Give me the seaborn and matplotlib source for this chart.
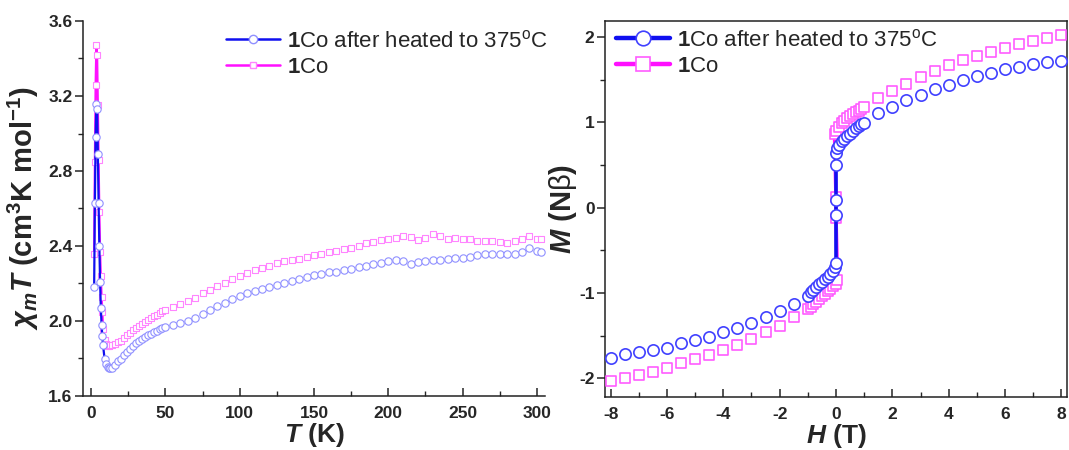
import numpy as np
import pandas as pd
import matplotlib
matplotlib.use("Agg")
import matplotlib.pyplot as plt
from matplotlib.lines import Line2D
from matplotlib.ticker import MultipleLocator
import seaborn as sns

# ---------------- data: left panel (chi_m T vs T) ----------------
T_low = [2, 2.5, 3, 3.5, 4, 4.5, 5, 5.5, 6, 6.5, 7, 7.5, 8, 9, 10, 11, 12, 13]
chi_blue_low = [2.18, 2.63, 2.98, 3.16, 3.13, 2.89, 2.63, 2.40, 2.21, 2.07, 1.98, 1.92,
                1.87, 1.80, 1.77, 1.755, 1.748, 1.748]
chi_pink_low = [2.36, 2.85, 3.26, 3.47, 3.42, 3.15, 2.86, 2.58, 2.37, 2.24, 2.13, 2.05,
                1.96, 1.90, 1.875, 1.868, 1.868, 1.870]

T_high = [14, 16, 18, 20, 22, 24, 26, 28, 30, 32, 34, 36, 38, 40, 42, 44, 46, 48, 50,
          55, 60, 65, 70, 75, 80, 85, 90, 95, 100, 105, 110, 115, 120, 125, 130, 135,
          140, 145, 150, 155, 160, 165, 170, 175, 180, 185, 190, 195, 200, 205, 210,
          215, 220, 225, 230, 235, 240, 245, 250, 255, 260, 265, 270, 275, 280, 285,
          290, 295, 300, 303]
chi_blue_high = [1.752, 1.765, 1.785, 1.800, 1.820, 1.835, 1.850, 1.868, 1.882, 1.895,
                 1.905, 1.915, 1.925, 1.933, 1.941, 1.948, 1.955, 1.961, 1.967,
                 1.977, 1.987, 2.000, 2.018, 2.038, 2.058, 2.078, 2.098, 2.117, 2.133,
                 2.148, 2.160, 2.170, 2.180, 2.193, 2.204, 2.214, 2.224, 2.234, 2.244,
                 2.253, 2.259, 2.264, 2.270, 2.279, 2.288, 2.296, 2.305, 2.310, 2.318,
                 2.325, 2.320, 2.305, 2.315, 2.320, 2.325, 2.326, 2.330, 2.334, 2.338,
                 2.342, 2.352, 2.355, 2.356, 2.356, 2.357, 2.360, 2.370, 2.388, 2.372,
                 2.370]
chi_pink_high = [1.872, 1.878, 1.886, 1.896, 1.910, 1.924, 1.936, 1.950, 1.962, 1.974,
                 1.985, 1.995, 2.005, 2.015, 2.025, 2.034, 2.043, 2.052, 2.060,
                 2.075, 2.090, 2.108, 2.125, 2.148, 2.168, 2.188, 2.205, 2.224, 2.240,
                 2.255, 2.270, 2.284, 2.295, 2.308, 2.318, 2.325, 2.333, 2.344, 2.350,
                 2.358, 2.366, 2.375, 2.385, 2.392, 2.401, 2.414, 2.424, 2.430, 2.440,
                 2.441, 2.453, 2.450, 2.432, 2.445, 2.462, 2.455, 2.440, 2.441, 2.437,
                 2.435, 2.428, 2.428, 2.428, 2.420, 2.418, 2.425, 2.435, 2.453, 2.440,
                 2.440]

# ---------------- data: right panel (M vs H) ----------------
H_high = [-8, -7.5, -7, -6.5, -6, -5.5, -5, -4.5, -4, -3.5, -3, -2.5, -2, -1.5,
          1.5, 2, 2.5, 3, 3.5, 4, 4.5, 5, 5.5, 6, 6.5, 7, 7.5, 8]
M_blue_high = [-1.757, -1.718, -1.698, -1.667, -1.640, -1.588, -1.553, -1.514, -1.463,
               -1.412, -1.353, -1.279, -1.216, -1.130,
               1.106, 1.184, 1.262, 1.320, 1.388, 1.439, 1.498, 1.545, 1.584, 1.627,
               1.654, 1.686, 1.706, 1.725]
M_pink_high = [-2.032, -2.000, -1.961, -1.922, -1.875, -1.824, -1.776, -1.726, -1.671,
               -1.608, -1.541, -1.463, -1.385, -1.287,
               1.282, 1.372, 1.451, 1.537, 1.607, 1.674, 1.733, 1.780, 1.831, 1.878,
               1.917, 1.956, 1.988, 2.027]

H_low_blue = [-1.0, -0.9, -0.8, -0.7, -0.6, -0.5, -0.4, -0.3, -0.2, -0.1, -0.05, 0, 0, 0,
              0, 0, 0.05, 0.1, 0.2, 0.3, 0.4, 0.5, 0.6, 0.7, 0.8, 0.9, 1.0]
M_low_blue = [-1.032, -0.99, -0.96, -0.93, -0.90, -0.87, -0.84, -0.81, -0.78, -0.74,
              -0.70, -0.65, -0.09, 0.09, 0.50, 0.64, 0.70, 0.74, 0.78, 0.81, 0.84, 0.87,
              0.90, 0.93, 0.955, 0.98, 0.995]
H_low_pink = [-1.0, -0.9, -0.8, -0.7, -0.6, -0.5, -0.4, -0.3, -0.2, -0.1, 0, 0.05, 0, 0,
              -0.05, 0, 0.1, 0.2, 0.3, 0.4, 0.5, 0.6, 0.7, 0.8, 0.9, 1.0]
M_low_pink = [-1.188, -1.16, -1.13, -1.10, -1.07, -1.04, -1.01, -0.98, -0.95, -0.92,
              -0.89, -0.85, -0.12, 0.12, 0.86, 0.90, 0.95, 0.99, 1.02, 1.05, 1.08, 1.10,
              1.12, 1.14, 1.16, 1.176]

label_blue = r"$\mathbf{1}$Co after heated to 375$^{\mathrm{o}}$C"
label_pink = r"$\mathbf{1}$Co"

# ---------------- styling ----------------
sns.set_theme(style="ticks")
plt.rcParams["font.family"] = ["Liberation Sans", "DejaVu Sans"]
plt.rcParams["mathtext.fontset"] = "custom"
plt.rcParams["mathtext.rm"] = "Liberation Sans"
plt.rcParams["mathtext.it"] = "Liberation Sans:italic:bold"
plt.rcParams["mathtext.bf"] = "Liberation Sans:bold"
plt.rcParams["axes.unicode_minus"] = False
plt.rcParams["axes.edgecolor"] = "#222222"
plt.rcParams["axes.linewidth"] = 1.1

BLUE_LINE = "#1010f0"
PINK_LINE = "#ff10ff"
BLUE_L_EDGE = "#9090ff"
PINK_L_EDGE = "#ff85ff"
BLUE_R_EDGE = "#4040ff"
PINK_R_EDGE = "#ff5cff"

fig = plt.figure(figsize=(10.69, 4.5), dpi=100)
axL = fig.add_axes([83 / 1069, 1 - 396 / 450, 462 / 1069, 375 / 450])
axR = fig.add_axes([605 / 1069, 1 - 397 / 450, 462 / 1069, 376 / 450])

# ---------------- left panel ----------------
dfL_lo = pd.DataFrame({"T": T_low, "blue": chi_blue_low, "pink": chi_pink_low})
dfL_hi = pd.DataFrame({"T": T_high, "blue": chi_blue_high, "pink": chi_pink_high})

sns.lineplot(data=dfL_lo, x="T", y="pink", sort=False, estimator=None,
             color=PINK_LINE, lw=1.6, ax=axL, zorder=2)
for d in (dfL_lo, dfL_hi):
    sns.scatterplot(data=d, x="T", y="pink", marker="s", s=18, color="white",
                    edgecolor=PINK_L_EDGE, linewidth=0.8, ax=axL, zorder=3)
sns.lineplot(data=dfL_lo, x="T", y="blue", sort=False, estimator=None,
             color=BLUE_LINE, lw=1.6, ax=axL, zorder=4)
for d in (dfL_lo, dfL_hi):
    sns.scatterplot(data=d, x="T", y="blue", marker="o", s=28, color="white",
                    edgecolor=BLUE_L_EDGE, linewidth=0.8, ax=axL, zorder=5)

axL.set_xlim(-5.5, 305.5)
axL.set_ylim(1.6, 3.6)
axL.xaxis.set_major_locator(MultipleLocator(50))
axL.xaxis.set_minor_locator(MultipleLocator(25))
axL.yaxis.set_major_locator(MultipleLocator(0.4))
axL.yaxis.set_minor_locator(MultipleLocator(0.2))
axL.yaxis.set_major_formatter(matplotlib.ticker.FormatStrFormatter("%.1f"))
for s in ("top", "right"):
    axL.spines[s].set_visible(False)
axL.tick_params(axis="y", which="major", direction="out", length=6, width=1.1,
                pad=1.5, labelsize=12.5)
axL.tick_params(axis="y", which="minor", direction="out", length=3.5, width=1.0)
axL.tick_params(axis="x", which="major", direction="in", length=5.5, width=1.1,
                pad=7, labelsize=12.5)
axL.tick_params(axis="x", which="minor", direction="in", length=3.5, width=1.0)
for lab in axL.get_xticklabels() + axL.get_yticklabels():
    lab.set_fontweight("bold")
axL.set_xlabel(r"$T$ (K)", fontsize=19, fontweight="bold", labelpad=0)
axL.set_ylabel(r"$\chi_m T$ (cm$^{\mathbf{3}}$K mol$^{\mathbf{-1}}$)", fontsize=21,
               fontweight="bold", labelpad=5)

hL = [Line2D([], [], color=BLUE_LINE, lw=1.8, marker="o", ms=6, mfc="white",
             mec=BLUE_L_EDGE, mew=1.0),
      Line2D([], [], color=PINK_LINE, lw=1.8, marker="s", ms=5, mfc="white",
             mec=PINK_L_EDGE, mew=1.0)]
fig.legend(hL, [label_blue, label_pink], loc="upper left",
           bbox_to_anchor=(226 / 1069, 1 - 30 / 450), frameon=False, fontsize=16,
           handlelength=2.45, handletextpad=0.3, labelspacing=0.22, borderpad=0,
           borderaxespad=0)

# ---------------- right panel ----------------
dfR_lo_b = pd.DataFrame({"H": H_low_blue, "M": M_low_blue})
dfR_lo_p = pd.DataFrame({"H": H_low_pink, "M": M_low_pink})
dfR_hi = pd.DataFrame({"H": H_high, "blue": M_blue_high, "pink": M_pink_high})

sns.lineplot(data=dfR_lo_p, x="H", y="M", sort=False, estimator=None,
             color=PINK_LINE, lw=2.6, ax=axR, zorder=2)
sns.scatterplot(data=dfR_lo_p, x="H", y="M", marker="s", s=52, color="white",
                edgecolor=PINK_R_EDGE, linewidth=1.2, ax=axR, zorder=3)
sns.scatterplot(data=dfR_hi, x="H", y="pink", marker="s", s=52, color="white",
                edgecolor=PINK_R_EDGE, linewidth=1.2, ax=axR, zorder=3)
sns.lineplot(data=dfR_lo_b, x="H", y="M", sort=False, estimator=None,
             color=BLUE_LINE, lw=2.6, ax=axR, zorder=4)
sns.scatterplot(data=dfR_lo_b, x="H", y="M", marker="o", s=66, color="white",
                edgecolor=BLUE_R_EDGE, linewidth=1.2, ax=axR, zorder=5)
sns.scatterplot(data=dfR_hi, x="H", y="blue", marker="o", s=66, color="white",
                edgecolor=BLUE_R_EDGE, linewidth=1.2, ax=axR, zorder=5)

axR.set_xlim(-8.2, 8.2)
axR.set_ylim(-2.22, 2.19)
axR.xaxis.set_major_locator(MultipleLocator(2))
axR.xaxis.set_minor_locator(MultipleLocator(1))
axR.yaxis.set_major_locator(MultipleLocator(1))
axR.yaxis.set_minor_locator(MultipleLocator(0.5))
axR.tick_params(axis="y", which="major", direction="out", length=6, width=1.1,
                pad=1.5, labelsize=12.5)
axR.tick_params(axis="y", which="minor", direction="out", length=3.5, width=1.0)
axR.tick_params(axis="x", which="major", direction="in", length=5.5, width=1.1,
                pad=7, labelsize=12.5)
axR.tick_params(axis="x", which="minor", direction="in", length=3.5, width=1.0)
for lab in axR.get_xticklabels() + axR.get_yticklabels():
    lab.set_fontweight("bold")
axR.set_xlabel(r"$H$ (T)", fontsize=19, fontweight="bold", labelpad=0)
axR.set_ylabel(r"$M$ (N$\mathrm{\beta}$)", fontsize=21, fontweight="bold", labelpad=0)

hR = [Line2D([], [], color=BLUE_LINE, lw=3.2, marker="o", ms=10.5, mfc="white",
             mec=BLUE_R_EDGE, mew=1.2),
      Line2D([], [], color=PINK_LINE, lw=3.2, marker="s", ms=9.5, mfc="white",
             mec=PINK_R_EDGE, mew=1.2)]
fig.legend(hR, [label_blue, label_pink], loc="upper left",
           bbox_to_anchor=(616 / 1069, 1 - 29 / 450), frameon=False, fontsize=16,
           handlelength=2.45, handletextpad=0.3, labelspacing=0.22, borderpad=0,
           borderaxespad=0)

fig.savefig("out.png", dpi=100)
